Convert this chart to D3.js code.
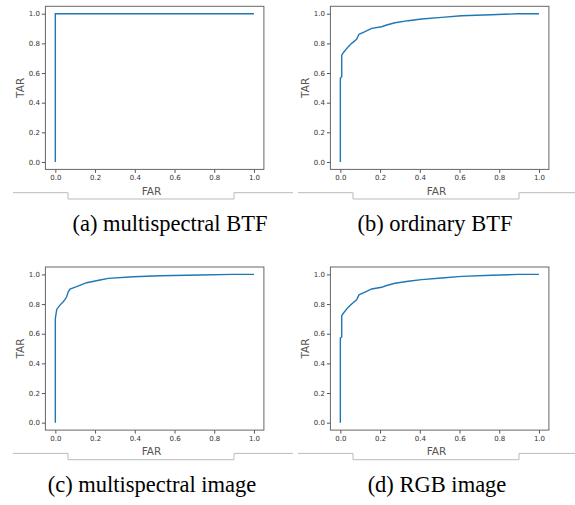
<!DOCTYPE html>
<html lang="en">
<head>
  <meta charset="UTF-8">
  <title>ROC curves</title>
  <script src="https://d3js.org/d3.v7.min.js"></script>
  <style>
    body { margin: 0; background: #fff; }
    .tick text { font: 7px "DejaVu Sans", sans-serif; fill: #333; }
    .axlabel { font: 10.5px "DejaVu Sans", sans-serif; fill: #555; }
    .caption { font: 22.5px "Liberation Serif", "Times New Roman", serif; fill: #000; }
    .curve { fill: none; stroke: #1f77b4; stroke-width: 1.4px; }
    .frame { fill: none; stroke: #666; stroke-width: 1px; }
    .bracket { fill: none; stroke: #bbb; stroke-width: 1px; }
  </style>
</head>
<body>
  <svg width="575" height="505"></svg>
  <script>
    // data
    const captions = ["(a) multispectral BTF", "(b) ordinary BTF", "(c) multispectral image", "(d) RGB image"];
    const ticks = [0, 0.2, 0.4, 0.6, 0.8, 1.0];

    const farA = [0, 0, 1];
    const tarA = [0, 1, 1];

    const farB = [0, 0, 0.007, 0.007, 0.015, 0.04, 0.057, 0.082, 0.094, 0.124, 0.158, 0.208, 0.233, 0.275, 0.342, 0.409, 0.51, 0.61, 0.76, 0.896, 1];
    const tarB = [0, 0.564, 0.575, 0.72, 0.737, 0.778, 0.80, 0.827, 0.861, 0.879, 0.901, 0.912, 0.924, 0.939, 0.953, 0.964, 0.975, 0.986, 0.993, 1.0, 1.0];

    const farC = [0, 0, 0.007, 0.023, 0.04, 0.049, 0.057, 0.065, 0.074, 0.107, 0.158, 0.225, 0.267, 0.393, 0.527, 0.728, 0.896, 1];
    const tarC = [0, 0.703, 0.764, 0.793, 0.816, 0.831, 0.849, 0.883, 0.901, 0.917, 0.944, 0.962, 0.973, 0.984, 0.991, 0.996, 1.0, 1.0];

    const farD = [0, 0, 0.007, 0.007, 0.015, 0.04, 0.057, 0.082, 0.094, 0.124, 0.158, 0.208, 0.233, 0.275, 0.342, 0.409, 0.51, 0.61, 0.76, 0.896, 1];
    const tarD = [0, 0.57, 0.578, 0.722, 0.738, 0.779, 0.801, 0.828, 0.862, 0.88, 0.902, 0.913, 0.925, 0.94, 0.954, 0.965, 0.976, 0.987, 0.994, 1.0, 1.0];

    const series = [[farA, tarA], [farB, tarB], [farC, tarC], [farD, tarD]];
    const captionX = [170, 150, 152, 152];

    const svg = d3.select("svg");
    const box = { left: 45.4, right: 263.9, top: 6.3, bottom: 169.4 };

    const x = d3.scaleLinear().domain([-0.05, 1.05]).range([box.left, box.right]);
    const y = d3.scaleLinear().domain([-0.05, 1.05]).range([box.bottom, box.top]);

    const line = d3.line().x(d => x(d[0])).y(d => y(d[1]));

    series.forEach((s, i) => {
      const col = i % 2, row = Math.floor(i / 2);
      const g = svg.append("g")
          .attr("transform", `translate(${col * 285},${row * 260.7})`);

      // bracket line under each panel
      g.append("path")
          .attr("class", "bracket")
          .attr("d", "M13,192.7H68V199H234V192.7H293");

      const pts = s[0].map((v, k) => [v, s[1][k]]);
      g.append("path")
          .attr("class", "curve")
          .attr("d", line(pts));

      const xa = g.append("g")
          .attr("transform", `translate(0,${box.bottom})`)
          .call(d3.axisBottom(x).tickValues(ticks).tickFormat(d3.format(".1f")).tickSize(3.5).tickPadding(2));
      const ya = g.append("g")
          .attr("transform", `translate(${box.left},0)`)
          .call(d3.axisLeft(y).tickValues(ticks).tickFormat(d3.format(".1f")).tickSize(3.5).tickPadding(2));
      [xa, ya].forEach(a => {
        a.select(".domain").remove();
        a.selectAll(".tick line").attr("stroke", "#555");
      });

      g.append("rect")
          .attr("class", "frame")
          .attr("x", box.left).attr("y", box.top)
          .attr("width", box.right - box.left).attr("height", box.bottom - box.top);

      g.append("text")
          .attr("class", "axlabel")
          .attr("x", 151.5).attr("y", 194.5)
          .attr("text-anchor", "middle")
          .text("FAR");

      g.append("text")
          .attr("class", "axlabel")
          .attr("transform", `translate(23.5,${(box.top + box.bottom) / 2}) rotate(-90)`)
          .attr("text-anchor", "middle")
          .text("TAR");

      g.append("text")
          .attr("class", "caption")
          .attr("x", captionX[i]).attr("y", 231)
          .attr("text-anchor", "middle")
          .text(captions[i]);
    });
  </script>
</body>
</html>
